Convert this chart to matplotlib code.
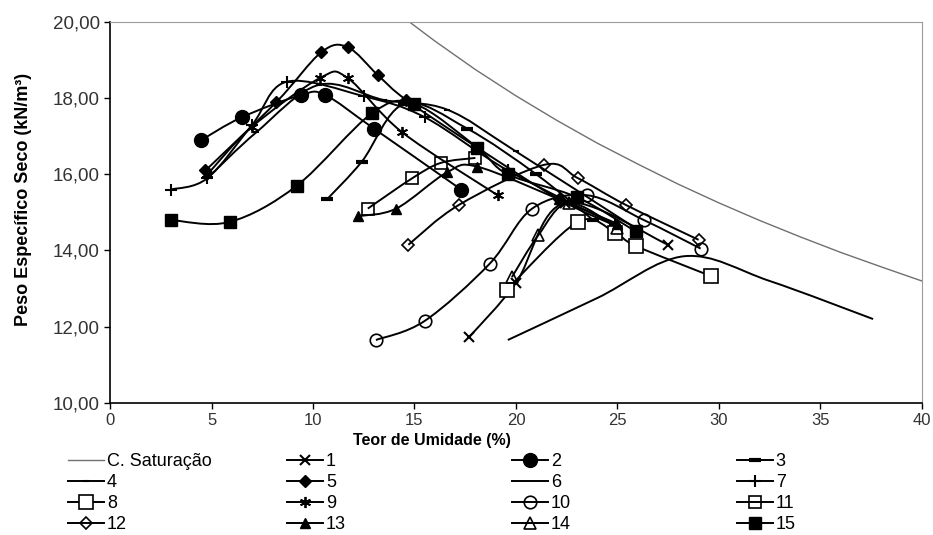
import numpy as np
import matplotlib.pyplot as plt
from matplotlib.path import Path
from matplotlib.patches import PathPatch
from matplotlib.lines import Line2D

plt.rcParams['font.family'] = ['Liberation Sans', 'DejaVu Sans']

# saturation curve
sat_w = [14.6, 16, 18, 20, 22, 24, 26, 28, 30, 32, 34, 36, 38, 40]
sat_g = [20.06, 19.50, 18.75, 18.06, 17.42, 16.82, 16.27, 15.74, 15.25, 14.79, 14.36, 13.95, 13.57, 13.20]

# compaction curves: moisture (%) and dry unit weight (kN/m3)
w1 = [17.7, 20.0, 22.4, 27.5]
g1 = [11.73, 13.15, 15.25, 14.15]
w2 = [4.5, 6.5, 9.4, 10.6, 13.0, 17.3]
g2 = [16.9, 17.5, 18.08, 18.08, 17.2, 15.6]
w3 = [10.7, 12.4, 14.5, 17.6, 21.0, 23.8]
g3 = [15.35, 16.33, 17.85, 17.2, 16.0, 14.8]
w4 = [4.8, 7.2, 10.3, 13.5, 16.6, 20.0, 26.0]
g4 = [15.9, 17.1, 18.35, 17.95, 17.7, 16.6, 14.55]
w5 = [4.7, 8.2, 10.4, 11.7, 13.2, 14.6, 18.1, 22.1, 24.9]
g5 = [16.1, 17.9, 19.2, 19.34, 18.6, 17.95, 16.7, 15.35, 14.65]
w6 = [19.6, 24.0, 28.3, 32.5, 37.6]
g6 = [11.65, 12.75, 13.85, 13.2, 12.2]
w7 = [3.0, 4.8, 7.0, 8.7, 12.5, 15.5, 19.6, 24.9]
g7 = [15.6, 15.9, 17.3, 18.43, 18.05, 17.5, 16.1, 14.67]
w8 = [19.55, 23.05, 24.9, 25.9, 29.6]
g8 = [12.97, 14.75, 14.46, 14.12, 13.33]
w9 = [4.8, 7.0, 10.35, 11.7, 14.4, 19.1]
g9 = [16.0, 17.25, 18.53, 18.53, 17.1, 15.45]
w10 = [13.1, 15.5, 18.7, 20.8, 23.5, 26.3, 29.1]
g10 = [11.65, 12.15, 13.65, 15.1, 15.45, 14.8, 14.05]
w11 = [12.7, 14.9, 16.3, 18.0]
g11 = [15.1, 15.9, 16.3, 16.43]
w12 = [14.7, 17.2, 21.4, 23.05, 25.4, 29.0]
g12 = [14.15, 15.2, 16.25, 15.9, 15.2, 14.28]
w13 = [12.2, 14.1, 16.6, 18.1, 22.1, 25.0]
g13 = [14.9, 15.1, 16.05, 16.2, 15.35, 14.7]
w14 = [19.8, 21.1, 22.6, 25.0]
g14 = [13.3, 14.4, 15.25, 14.6]
w15 = [3.0, 5.9, 9.2, 12.9, 15.0, 18.1, 19.6, 23.0, 25.9]
g15 = [14.8, 14.75, 15.7, 17.6, 17.85, 16.7, 16.0, 15.4, 14.5]


def smooth_path(x, y, k=1 / 6):
    # excel-like smoothed line through the points
    p = np.column_stack([x, y]).astype(float)
    verts = [p[0]]
    codes = [Path.MOVETO]
    n = len(p)
    for i in range(n - 1):
        p0 = p[max(i - 1, 0)]
        p1 = p[i]
        p2 = p[i + 1]
        p3 = p[min(i + 2, n - 1)]
        verts += [p1 + (p2 - p0) * k, p2 - (p3 - p1) * k, p2]
        codes += [Path.CURVE4] * 3
    return Path(verts, codes)


blk = 'black'
series = [
    ('1', w1, g1, dict(marker='x', ms=7, mew=1.5, color=blk)),
    ('2', w2, g2, dict(marker='o', ms=10, color=blk)),
    ('3', w3, g3, dict(marker='_', ms=8, mew=3, color=blk)),
    ('4', w4, g4, dict(marker='_', ms=4, mew=1.5, color=blk)),
    ('5', w5, g5, dict(marker='D', ms=6, color=blk)),
    ('6', w6, g6, dict(marker='', color=blk)),
    ('7', w7, g7, dict(marker='+', ms=8, mew=1.5, color=blk)),
    ('8', w8, g8, dict(marker='s', ms=10, mfc='white', mew=1.2, color=blk)),
    ('9', w9, g9, dict(marker=(6, 2, 0), ms=8, mew=1.3, color=blk)),
    ('10', w10, g10, dict(marker='o', ms=9, mfc='none', mew=1.2, color=blk)),
    ('11', w11, g11, dict(marker='s', ms=9, mfc='none', mew=1.2, color=blk)),
    ('12', w12, g12, dict(marker='D', ms=6, mfc='none', mew=1.2, color=blk)),
    ('13', w13, g13, dict(marker='^', ms=7, color=blk)),
    ('14', w14, g14, dict(marker='^', ms=8, mfc='none', mew=1.2, color=blk)),
    ('15', w15, g15, dict(marker='s', ms=8, color=blk)),
]

fig = plt.figure(figsize=(9.33, 5.35), dpi=100)
ax = fig.add_axes([0.118, 0.247, 0.870, 0.712])

ax.plot(sat_w, sat_g, color='#707070', lw=1.0, zorder=1)
handles = {'C. Saturação': Line2D([], [], color='#707070', lw=1.0)}

for lab, x, y, st in series:
    ax.add_patch(PathPatch(smooth_path(x, y), fill=False, ec=blk, lw=1.4, zorder=2))
    if st['marker']:
        ax.plot(x, y, ls='none', zorder=3, **st)
    handles[lab] = Line2D([], [], lw=1.4, **st)

ax.set_xlim(0, 40)
ax.set_ylim(10, 20)
ax.set_xticks(np.arange(0, 41, 5))
ax.set_yticks(np.arange(10, 21, 2))
ax.set_yticklabels([f'{v:.2f}'.replace('.', ',') for v in np.arange(10, 21, 2)])
ax.tick_params(labelcolor='#333333', length=4, width=1)
ax.tick_params(axis='x', labelsize=12)
ax.tick_params(axis='y', labelsize=13.5)
ax.spines['top'].set_color('#9a9a9a')
ax.spines['right'].set_color('#9a9a9a')
ax.spines['left'].set_linewidth(1.2)
ax.spines['bottom'].set_linewidth(1.2)

ax.set_xlabel('Teor de Umidade (%)', fontsize=11.5, fontweight='bold')
ax.xaxis.set_label_coords(0.397, -0.08)
ax.set_ylabel('Peso Específico Seco (kN/m³)', fontsize=13, fontweight='bold')
ax.yaxis.set_label_coords(-0.096, 0.535)

cols = [['C. Saturação', '4', '8', '12'],
        ['1', '5', '9', '13'],
        ['2', '6', '10', '14'],
        ['3', '7', '11', '15']]
col_x = [68, 287, 512, 737]
for labs, px in zip(cols, col_x):
    fig.legend([handles[l] for l in labs], labs, loc='upper left',
               bbox_to_anchor=(px / 933, 1 - 453 / 535), frameon=False,
               fontsize=13, handlelength=2.0, handletextpad=0.15,
               labelspacing=0.22, borderpad=0, borderaxespad=0)

fig.savefig('out.png', dpi=100)
